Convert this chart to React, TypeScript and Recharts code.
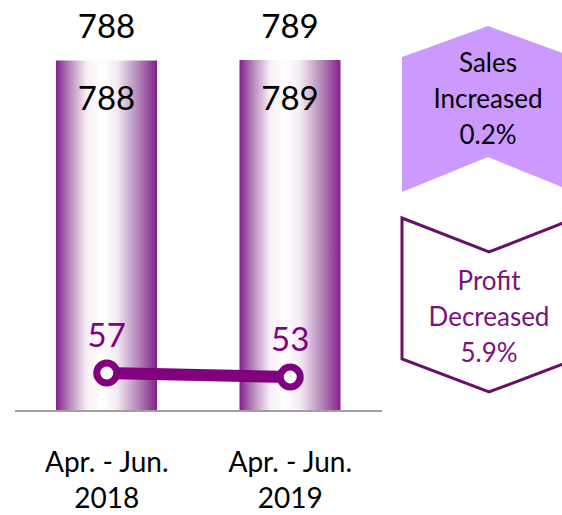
import { ComposedChart, Bar, Line, XAxis, YAxis, LabelList } from "recharts"

const periods = ["Apr. - Jun.", "Apr. - Jun."]
const years = ["2018", "2019"]
const sales = [788, 789]
const profit = [57, 53]
const salesNote = ["Sales", "Increased", "0.2%"]
const profitNote = ["Profit", "Decreased", "5.9%"]

const data = years.map((year, i) => ({
  name: `${periods[i]} ${year}`,
  period: periods[i],
  year,
  sales: sales[i],
  profit: profit[i],
}))

const FONT = "Lato, 'Open Sans', sans-serif"
const PURPLE = "#800080"

const PeriodTick = ({ x, y, index }: any) => (
  <g>
    <text x={x} y={y + 42} textAnchor="middle" dominantBaseline="central" fontSize={28} fill="#000" fontFamily={FONT}>
      {data[index]?.period}
    </text>
    <text x={x} y={y + 78} textAnchor="middle" dominantBaseline="central" fontSize={28} fill="#000" fontFamily={FONT}>
      {data[index]?.year}
    </text>
  </g>
)

const SalesLabel = ({ x, y, width, value }: any) => (
  <g>
    <text x={x + width / 2} y={y - 35} textAnchor="middle" dominantBaseline="central" fontSize={33} fill="#000" fontFamily={FONT}>
      {value}
    </text>
    <text x={x + width / 2} y={y + 37} textAnchor="middle" dominantBaseline="central" fontSize={33} fill="#000" fontFamily={FONT}>
      {value}
    </text>
  </g>
)

const ProfitLabel = ({ x, y, value }: any) => (
  <text x={x} y={y - 39} textAnchor="middle" dominantBaseline="central" fontSize={33} fill={PURPLE} fontFamily={FONT}>
    {value}
  </text>
)

const ProfitDot = ({ cx, cy }: any) => (
  <circle cx={cx} cy={cy} r={10} fill="#fff" stroke={PURPLE} strokeWidth={7} />
)

function NoteText({ lines, cx, top, color }: { lines: string[]; cx: number; top: number; color: string }) {
  return (
    <>
      {lines.map((t, i) => (
        <text key={t} x={cx} y={top + i * 36} textAnchor="middle" dominantBaseline="central" fontSize={26} fill={color} fontFamily={FONT}>
          {t}
        </text>
      ))}
    </>
  )
}

export default function App() {
  return (
    <div style={{ position: "absolute", left: 0, top: 0, width: 562, height: 515, background: "#fff" }}>
      <ComposedChart width={562} height={515} data={data} margin={{ top: 60, right: 180, left: 15, bottom: 0 }}>
        <defs>
          <linearGradient id="barGradient" x1="0" y1="0" x2="1" y2="0">
            <stop offset="0%" stopColor="#84208c" />
            <stop offset="12%" stopColor="#b27db6" />
            <stop offset="30%" stopColor="#f6eef6" />
            <stop offset="45%" stopColor="#ffffff" />
            <stop offset="60%" stopColor="#f4ecf4" />
            <stop offset="82%" stopColor="#b383b7" />
            <stop offset="100%" stopColor="#84208c" />
          </linearGradient>
        </defs>
        <XAxis
          dataKey="name"
          height={104}
          tickLine={false}
          axisLine={{ stroke: "#a0a0a0", strokeWidth: 2 }}
          tick={<PeriodTick />}
          interval={0}
        />
        <YAxis yAxisId="sales" hide domain={[0, 789]} />
        <YAxis yAxisId="profit" hide orientation="right" domain={[19, 370]} />
        <Bar yAxisId="sales" dataKey="sales" fill="url(#barGradient)" barSize={101} isAnimationActive={false}>
          <LabelList dataKey="sales" content={<SalesLabel />} />
        </Bar>
        <Line
          yAxisId="profit"
          dataKey="profit"
          type="linear"
          stroke={PURPLE}
          strokeWidth={12}
          dot={<ProfitDot />}
          activeDot={false}
          isAnimationActive={false}
        >
          <LabelList dataKey="profit" content={<ProfitLabel />} />
        </Line>
      </ComposedChart>
      <svg width={562} height={515} style={{ position: "absolute", left: 0, top: 0, pointerEvents: "none" }}>
        <polygon points="402,57 488,26 574,57 574,192 488,157 402,192" fill="#cc99ff" />
        <NoteText lines={salesNote} cx={488} top={62} color="#000" />
        <polygon points="402,218 489,252 576,218 576,359 489,392 402,359" fill="none" stroke="#6b0f6b" strokeWidth={3} />
        <NoteText lines={profitNote} cx={489} top={280} color="#7a127a" />
      </svg>
    </div>
  )
}
